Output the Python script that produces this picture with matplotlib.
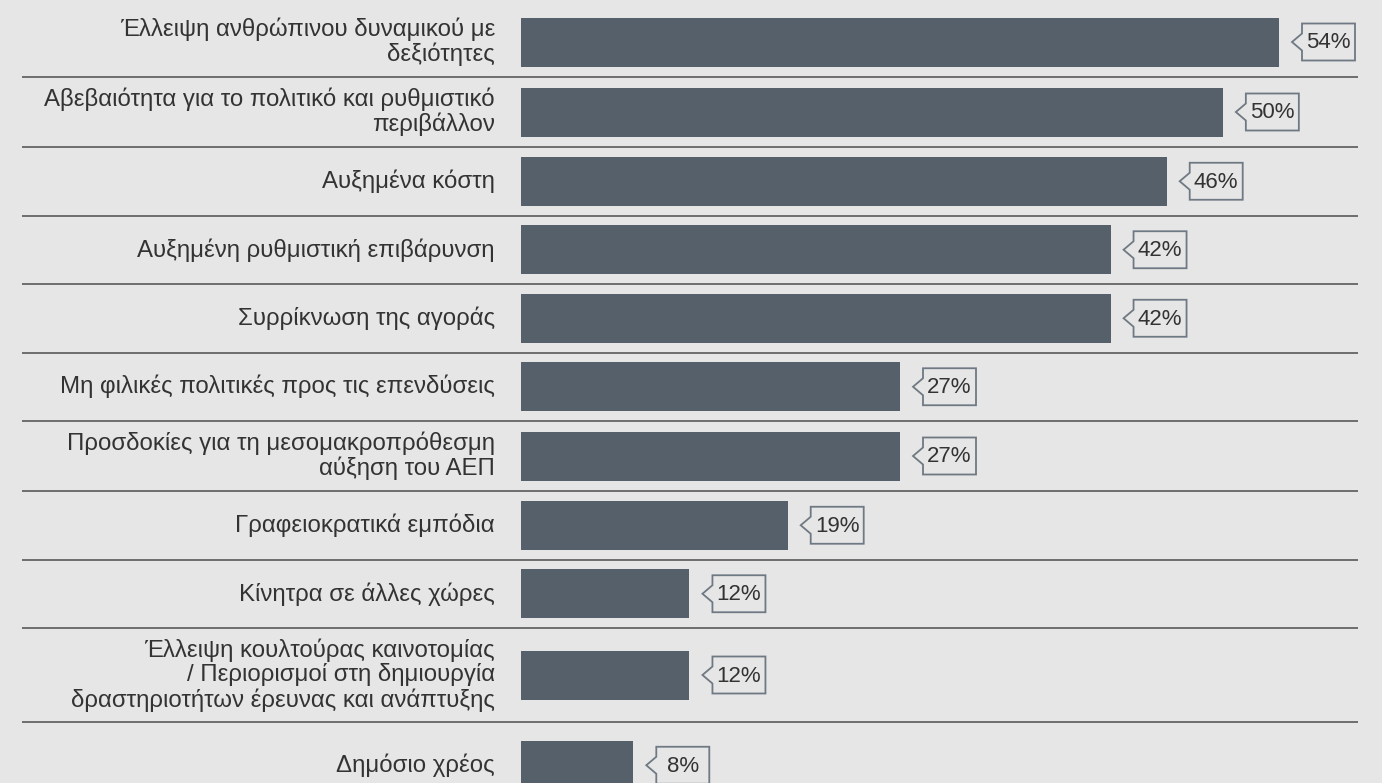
import numpy as np
import matplotlib.pyplot as plt
from matplotlib.patches import Polygon

plt.rcParams['font.family'] = ['Liberation Sans', 'DejaVu Sans']

labels = [
    'Έλλειψη ανθρώπινου δυναμικού με\nδεξιότητες',
    'Αβεβαιότητα για το πολιτικό και ρυθμιστικό\nπεριβάλλον',
    'Αυξημένα κόστη',
    'Αυξημένη ρυθμιστική επιβάρυνση',
    'Συρρίκνωση της αγοράς',
    'Μη φιλικές πολιτικές προς τις επενδύσεις',
    'Προσδοκίες για τη μεσομακροπρόθεσμη\nαύξηση του ΑΕΠ',
    'Γραφειοκρατικά εμπόδια',
    'Κίνητρα σε άλλες χώρες',
    'Έλλειψη κουλτούρας καινοτομίας\n/ Περιορισμοί στη δημιουργία\nδραστηριοτήτων έρευνας και ανάπτυξης',
    'Δημόσιο χρέος',
]
values = [54, 50, 46, 42, 42, 27, 27, 19, 12, 12, 8]

BG = '#e6e6e6'
BAR = '#56606a'
EDGE = '#6f7983'
TXT = '#333333'

W, H = 1382, 783
px = 758 / 54.0          # pixels per percentage point
x0 = 521                 # pixel where the bars start

fig = plt.figure(figsize=(W / 100, H / 100), dpi=100, facecolor=BG)
ax = fig.add_axes([0, 0, 1, 1])
ax.set_facecolor(BG)
ax.set_xlim(-x0 / px, (W - x0) / px)
ax.set_ylim(H, 0)
ax.axis('off')

# row heights grow with the number of label lines
nlines = [l.count('\n') + 1 for l in labels]
heights = [max(68.5, 22 + 24 * n) for n in nlines]
heights[-1] += 18
tops = 7 + np.concatenate([[0], np.cumsum(heights)[:-1]])
centers = tops + np.array(heights) / 2

ax.barh(centers, values, height=49, color=BAR, zorder=2)

for lab, yc in zip(labels, centers):
    ax.text(-26 / px, yc, lab, ha='right', va='center', ma='right',
            fontsize=17.3, color=TXT, linespacing=1.1)

# separators between rows
for t in tops[1:]:
    ax.plot([(22 - x0) / px, (1358 - x0) / px], [t, t], color='#4d4d4d',
            lw=1.1, solid_capstyle='butt', zorder=1)

# value callouts with a left-pointing notch
for v, yc in zip(values, centers):
    tip = v + 13 / px
    bl = tip + 10 / px
    br = bl + 53 / px
    top, bot = yc - 18.5, yc + 18.5
    pts = [(tip, yc), (bl, yc - 8.5), (bl, top), (br, top), (br, bot),
           (bl, bot), (bl, yc + 8.5)]
    ax.add_patch(Polygon(pts, closed=True, facecolor=BG, edgecolor=EDGE,
                         lw=1.3, zorder=3))
    ax.text((bl + br) / 2, yc + 1, f'{v}%', ha='center', va='center',
            fontsize=16, color=TXT, zorder=4)

fig.savefig('out.png', dpi=100, facecolor=BG)
